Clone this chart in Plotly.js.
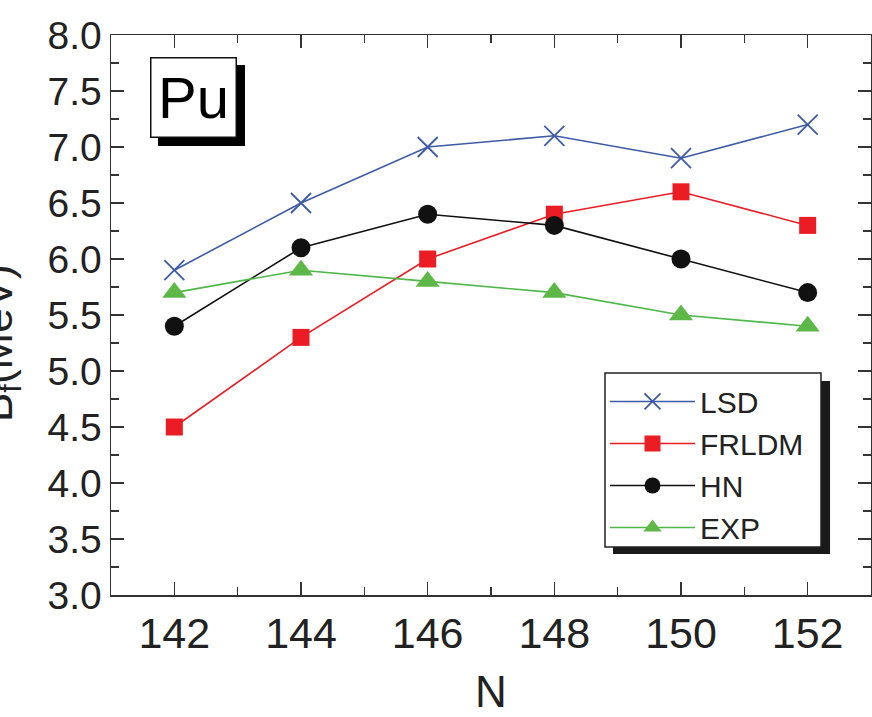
<!DOCTYPE html>
<html>
<head>
<meta charset="utf-8">
<script src="https://cdn.plot.ly/plotly-3.0.1.min.js"></script>
<style>html,body{margin:0;padding:0;background:#fff;}#chart{width:872px;height:717px;}</style>
</head>
<body>
<div id="chart"></div>
<script>
const N = [142, 144, 146, 148, 150, 152];
const LSD = [5.9, 6.5, 7.0, 7.1, 6.9, 7.2];
const FRLDM = [4.5, 5.3, 6.0, 6.4, 6.6, 6.3];
const HN = [5.4, 6.1, 6.4, 6.3, 6.0, 5.7];
const EXP = [5.7, 5.9, 5.8, 5.7, 5.5, 5.4];
const seriesNames = ['LSD', 'FRLDM', 'HN', 'EXP'];
const xTicks = [142, 144, 146, 148, 150, 152];
const yTicks = [3.0, 3.5, 4.0, 4.5, 5.0, 5.5, 6.0, 6.5, 7.0, 7.5, 8.0];

const FONT = 'Liberation Sans, Arial, Helvetica, sans-serif';
const AX = '#333333';

const traces = [
  {x: N, y: LSD, name: seriesNames[0], mode: 'lines+markers',
   line: {color: '#3d5aa8', width: 1.6},
   marker: {symbol: 'x-thin-open', size: 20, color: '#3d5aa8', line: {color: '#3d5aa8', width: 1.8}}},
  {x: N, y: FRLDM, name: seriesNames[1], mode: 'lines+markers',
   line: {color: '#ec1c24', width: 1.6},
   marker: {symbol: 'square', size: 17, color: '#ec1c24'}},
  {x: N, y: HN, name: seriesNames[2], mode: 'lines+markers',
   line: {color: '#111111', width: 1.6},
   marker: {symbol: 'circle', size: 19, color: '#111111'}},
  {x: N, y: EXP, name: seriesNames[3], mode: 'lines+markers',
   line: {color: '#4db848', width: 1.6},
   marker: {symbol: 'triangle-up', size: 21, color: '#5db847'}}
];

const layout = {
  width: 872, height: 717,
  margin: {l: 111, r: 1, t: 35, b: 122},
  paper_bgcolor: '#ffffff', plot_bgcolor: '#ffffff',
  font: {family: FONT, color: '#222'},
  showlegend: true,
  legend: {
    x: 0.65, y: 0.392, xanchor: 'left', yanchor: 'top',
    bgcolor: 'rgba(0,0,0,0)', borderwidth: 0,
    font: {family: FONT, size: 30, color: '#222'},
    itemwidth: 85,
    tracegroupgap: 0
  },
  xaxis: {
    range: [141, 153], tickvals: xTicks, ticktext: xTicks.map(String),
    ticks: 'inside', ticklen: 13, tickwidth: 1.5, tickcolor: AX,
    minor: {dtick: 1, ticks: 'inside', ticklen: 8, tickwidth: 1.5, tickcolor: AX},
    showline: true, linecolor: AX, linewidth: 1.5, mirror: 'ticks',
    showgrid: false, zeroline: false,
    tickfont: {family: FONT, size: 43, color: '#222'},
    title: {text: 'N', font: {family: FONT, size: 44, color: '#222'}, standoff: 20}
  },
  yaxis: {
    range: [3, 8], tickvals: yTicks, ticktext: yTicks.map(v => v.toFixed(1)),
    ticks: 'inside', ticklen: 13, tickwidth: 1.5, tickcolor: AX,
    minor: {dtick: 0.25, ticks: 'inside', ticklen: 8, tickwidth: 1.5, tickcolor: AX},
    showline: true, linecolor: AX, linewidth: 1.5, mirror: 'ticks',
    showgrid: false, zeroline: false,
    tickfont: {family: FONT, size: 39, color: '#222'}
  },
  shapes: [
    {type: 'rect', xref: 'paper', yref: 'paper', x0: 0.0618, x1: 0.1763, y0: 0.8018, y1: 0.9464,
     fillcolor: '#000', line: {width: 0}, layer: 'above'},
    {type: 'rect', xref: 'paper', yref: 'paper', x0: 0.6605, x1: 0.9461, y0: 0.0732, y1: 0.3821,
     fillcolor: '#1a1a1a', line: {width: 0}, layer: 'above'},
    {type: 'rect', xref: 'paper', yref: 'paper', x0: 0.65, x1: 0.9342, y0: 0.0857, y1: 0.3964,
     fillcolor: '#ffffff', line: {color: '#222', width: 1.5}, layer: 'above'}
  ],
  annotations: [
    {text: 'Pu', xref: 'paper', yref: 'paper', x: 0.0513, y: 0.9607, xanchor: 'left', yanchor: 'top',
     showarrow: false, width: 84, height: 78, borderpad: 0, bgcolor: '#fff', bordercolor: '#111', borderwidth: 1.5,
     font: {family: FONT, size: 58, color: '#000'}},
    {text: 'B<sub>f</sub>(MeV)', xref: 'paper', yref: 'paper', x: -0.146, y: 0.45, xanchor: 'center', yanchor: 'middle',
     textangle: -90, showarrow: false, font: {family: FONT, size: 44, color: '#222'}}
  ]
};

Plotly.newPlot('chart', traces, layout, {displayModeBar: false, staticPlot: true});
</script>
</body>
</html>
